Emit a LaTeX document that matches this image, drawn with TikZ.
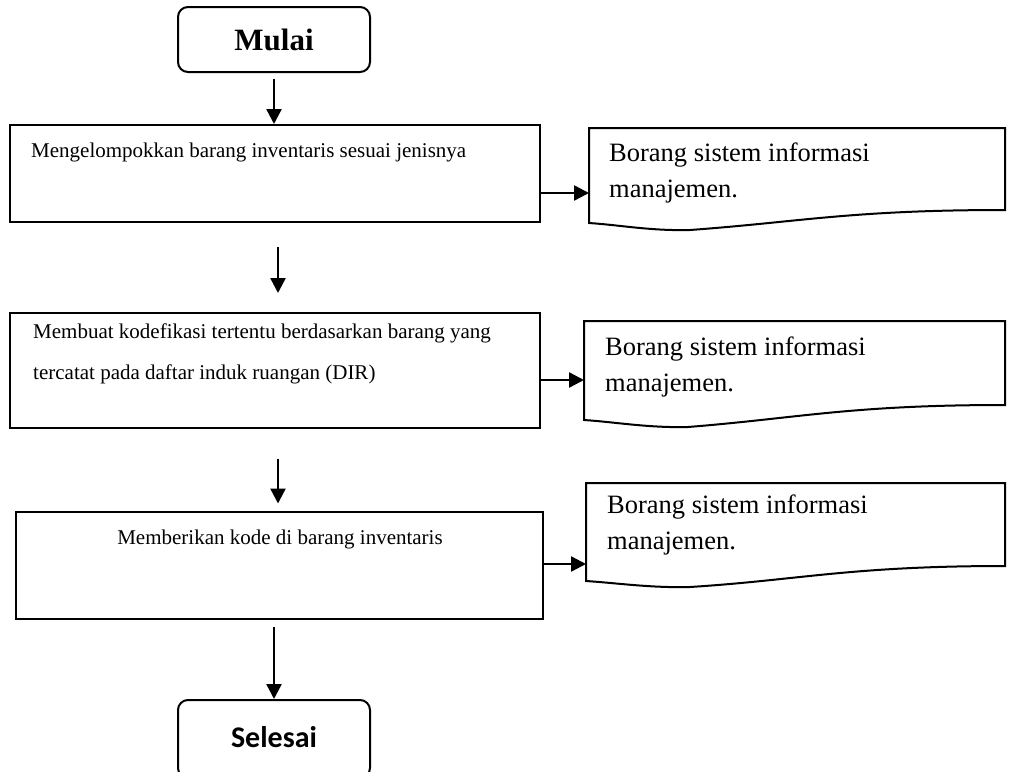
\documentclass[tikz,border=0pt]{standalone}
\usepackage{fontspec}
\setmainfont{Liberation Serif}
\newfontfamily\calibri{Carlito}
\usetikzlibrary{arrows.meta,calc}
\begin{document}
\begin{tikzpicture}[x=1pt,y=-1pt,
  procbox/.style={draw,line width=2pt,inner sep=0pt},
  termbox/.style={draw,line width=2pt,rounded corners=10pt,inner sep=0pt,minimum width=192,minimum height=65},
  docline/.style={line width=2pt,line join=miter},
  arr/.style={line width=2.4pt,-{Triangle[length=15pt,width=15pt]}},
  boxtext/.style={inner sep=0pt,font=\fontsize{21}{41}\selectfont,align=left},
  doctext/.style={inner sep=0pt,font=\fontsize{26.5}{36}\selectfont,align=left}]
\useasboundingbox (0,0) rectangle (1017,771);
% terminals
\node[termbox] (start) at (274,39.5) {\fontsize{31}{36}\selectfont\bfseries Mulai};
\node[termbox,minimum height=78] (end) at (274,739) {\raisebox{5pt}{\fontsize{30}{36}\selectfont\calibri\bfseries Selesai}};
% process boxes
\node[procbox,minimum width=530,minimum height=97] (b1) at (274.5,173.5) {};
\node[procbox,minimum width=530,minimum height=115] (b2) at (274.5,370) {};
\node[procbox,minimum width=527,minimum height=107] (b3) at (279,565.5) {};
\node[boxtext,anchor=base west] (t1) at (31,157) {Mengelompokkan barang inventaris sesuai jenisnya};
\node[boxtext,anchor=base west] (t2) at (33,379) {Membuat kodefikasi tertentu berdasarkan barang yang\\tercatat pada daftar induk ruangan (DIR)};
\node[boxtext,anchor=base] (t3) at (280,544) {Memberikan kode di barang inventaris};
% documents
\draw[docline] (589,128) -- (1005,128) -- (1005,210) .. controls (850,210) and (800,222) .. (690,230) .. controls (650,231) and (620,225) .. (589,223) -- cycle;
\draw[docline] (584,321) -- (1005,321) -- (1005,405) .. controls (850,405) and (800,418) .. (688,427) .. controls (648,428) and (615,422) .. (584,420) -- cycle;
\draw[docline] (586,483) -- (1005,483) -- (1005,566) .. controls (850,566) and (800,580) .. (690,587) .. controls (650,588) and (617,583) .. (586,581) -- cycle;
\node[doctext,anchor=base west] (d1) at (609,197) {Borang sistem informasi\\manajemen.};
\node[doctext,anchor=base west] (d2) at (605,391) {Borang sistem informasi\\manajemen.};
\node[doctext,anchor=base west] (d3) at (607,549) {Borang sistem informasi\\manajemen.};
\coordinate (d1l) at (589,193);
\coordinate (d2l) at (584,380);
\coordinate (d3l) at (586,564);
% connectors
\draw[arr] ($(start.south)+(0,6)$) -- (b1.north -| start.south);
\draw[arr] ($(b1.south)+(3.5,24)$) -- ($(b1.south)+(3.5,70)$);
\draw[arr] ($(b2.south)+(3.5,30)$) -- ($(b2.south)+(3.5,75)$);
\draw[arr] ($(b3.south)+(-5,7)$) -- (end.north -| {$(b3.south)+(-5,0)$});
\draw[arr] (b1.east |- d1l) -- (d1l);
\draw[arr] (b2.east |- d2l) -- (d2l);
\draw[arr] (b3.east |- d3l) -- (d3l);
\end{tikzpicture}
\end{document}
